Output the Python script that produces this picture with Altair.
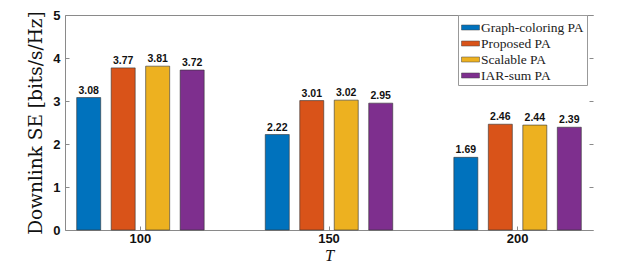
import altair as alt
import pandas as pd

T_values = ["100", "150", "200"]
series = ["Graph-coloring PA", "Proposed PA", "Scalable PA", "IAR-sum PA"]
graph_coloring = [3.08, 2.22, 1.69]
proposed = [3.77, 3.01, 2.46]
scalable = [3.81, 3.02, 2.44]
iar_sum = [3.72, 2.95, 2.39]
colors = ["#0072BD", "#D95319", "#EDB120", "#7E2F8E"]
y_ticks = [0, 1, 2, 3, 4, 5]

rows = []
for s, vals in zip(series, [graph_coloring, proposed, scalable, iar_sum]):
    for t, v in zip(T_values, vals):
        rows.append({"T": t, "series": s, "SE": v, "label": f"{v:.2f}"})
df = pd.DataFrame(rows)

AX = "#8a8a8a"
xscale = alt.Scale(domain=T_values, paddingInner=0.2, paddingOuter=0)
xoscale = alt.Scale(domain=series, paddingInner=0.304, paddingOuter=0.339)
yscale = alt.Scale(domain=[0, 5], nice=False)

base = alt.Chart(df)

bars = base.mark_bar(stroke="#333333", strokeWidth=0.6).encode(
    x=alt.X("T:N", scale=xscale, sort=T_values,
            axis=alt.Axis(orient="bottom", title="T", labelAngle=0, ticks=False,
                          domainColor=AX, labelFont="Liberation Sans", labelFontWeight="bold",
                          labelFontSize=13, labelColor="#111", labelPadding=2,
                          titleFont="Liberation Serif", titleFontStyle="italic",
                          titleFontWeight="normal", titleFontSize=16.5, titlePadding=2,
                          titleColor="#111")),
    xOffset=alt.XOffset("series:N", scale=xoscale, sort=series),
    y=alt.Y("SE:Q", scale=yscale,
            axis=alt.Axis(orient="left", values=y_ticks, ticks=False, grid=False,
                          title="Downlink SE [bits/s/Hz]", domainColor=AX,
                          labelFont="Liberation Sans", labelFontWeight="bold",
                          labelFontSize=13, labelColor="#111", labelPadding=5,
                          titleFont="DejaVu Serif", titleFontWeight="normal",
                          titleFontSize=18.5, titlePadding=7, titleColor="#111")),
    color=alt.Color("series:N", scale=alt.Scale(domain=series, range=colors), sort=series,
                    legend=alt.Legend(title=None, orient="none", legendX=393, legendY=0,
                                      fillColor="white", strokeColor="#999999",
                                      padding=3, rowPadding=-2,
                                      symbolType="M-1,-0.28L1,-0.28L1,0.28L-1,0.28Z",
                                      symbolSize=324, symbolStrokeWidth=0.5,
                                      symbolStrokeColor="#444", labelOffset=1,
                                      labelFont="Liberation Serif", labelFontSize=13.5,
                                      labelColor="#222")),
)

labels = base.mark_text(dy=-2, baseline="bottom", font="Liberation Sans",
                        fontWeight="bold", fontSize=10.5, color="#111").encode(
    x=alt.X("T:N", scale=xscale, sort=T_values,
            axis=alt.Axis(orient="top", labels=False, ticks=False, title=None,
                          domainColor=AX)),
    xOffset=alt.XOffset("series:N", scale=xoscale, sort=series),
    y=alt.Y("SE:Q", scale=yscale,
            axis=alt.Axis(orient="right", values=y_ticks, labels=False, domain=False,
                          grid=False, title=None, ticks=True, tickSize=4, offset=-4,
                          tickColor=AX)),
    text="label:N",
)

tick_layer = base.mark_bar(opacity=0).encode(
    x=alt.X("T:N", scale=xscale, sort=T_values,
            axis=alt.Axis(orient="bottom", labels=False, domain=False, title=None,
                          ticks=True, tickSize=4, offset=-4, tickColor=AX)),
    xOffset=alt.XOffset("series:N", scale=xoscale, sort=series),
    y=alt.Y("SE:Q", scale=yscale,
            axis=alt.Axis(orient="left", values=y_ticks, labels=False, domain=False,
                          grid=False, title=None, ticks=True, tickSize=4, offset=-4,
                          tickColor=AX)),
)

chart = alt.layer(bars, labels, tick_layer).resolve_axis(
    x="independent", y="independent"
).properties(
    width=528, height=215,
    autosize=alt.AutoSizeParams(type="none"),
    padding={"left": 57, "top": 7, "right": 22, "bottom": 34},
).configure_view(stroke=None)

chart.save("out.html", embed_options={"renderer": "svg", "actions": False})
